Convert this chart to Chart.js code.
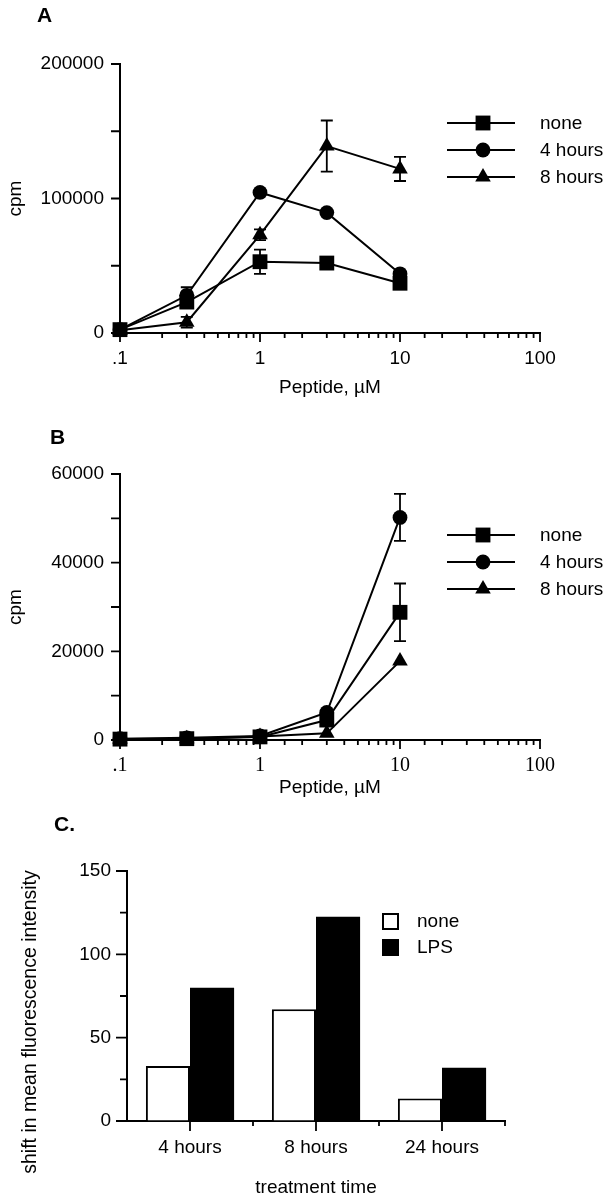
<!DOCTYPE html>
<html>
<head>
<meta charset="utf-8">
<script src="https://cdn.jsdelivr.net/npm/chart.js@4.4.1/dist/chart.umd.min.js"></script>
<style>
  body { margin: 0; background: #fff; width: 611px; height: 1199px; position: relative; overflow: hidden; }
  .panel { position: absolute; left: 0; width: 611px; }
  .tag { position: absolute; font-family: "Liberation Sans", Arial, sans-serif; font-weight: bold; font-size: 21px; color: #000; }
</style>
</head>
<body>
<div class="panel" style="top:0;height:400px"><canvas id="chartA" width="611" height="400"></canvas></div>
<div class="panel" style="top:400px;height:400px"><canvas id="chartB" width="611" height="400"></canvas></div>
<div class="panel" style="top:800px;height:399px"><canvas id="chartC" width="611" height="399"></canvas></div>
<div class="tag" style="left:37px;top:3px">A</div>
<div class="tag" style="left:50px;top:425px">B</div>
<div class="tag" style="left:54px;top:812px">C.</div>
<script>
// peptide concentrations (uM)
const conc = [0.1, 0.3, 1, 3, 10]
const seriesNames = ['none', '4 hours', '8 hours']

// panel A, cpm
const aNone = [2500, 23000, 53000, 52000, 37000]
const aNoneErr = [0, 0, 9000, 0, 0]
const a4h = [2500, 28000, 104500, 89500, 44000]
const a4hErr = [0, 6000, 0, 0, 0]
const a8h = [2000, 8000, 73000, 139000, 122000]
const a8hErr = [0, 4000, 4000, 19000, 9000]
const aYLabels = [0, 100000, 200000]

// panel B, cpm
const bNone = [200, 300, 700, 4500, 28800]
const bNoneErr = [0, 0, 0, 0, 6500]
const b4h = [300, 500, 900, 6200, 50200]
const b4hErr = [0, 0, 0, 0, 5300]
const b8h = [200, 300, 800, 1500, 17800]
const b8hErr = [0, 0, 0, 0, 0]
const bYLabels = [0, 20000, 40000, 60000]

const xTickValues = [0.1, 1, 10, 100]
const xTickLabels = ['.1', '1', '10', '100']

// panel C, shift in mean fluorescence intensity
const times = ['4 hours', '8 hours', '24 hours']
const cNone = [33, 67, 13.5]
const cLps = [80, 122.5, 32]
const cYLabels = [0, 50, 100, 150]

Chart.defaults.font.family = '"Liberation Sans", Arial, sans-serif'
Chart.defaults.font.size = 19
Chart.defaults.color = '#000'

function pts(vals){
    return conc.map((c, i) => ({x: c, y: vals[i]}))
}

function drawMarker(ctx, style, r, x, y){
    ctx.beginPath()
    if(style == 'rect'){
        const s = r * Math.SQRT1_2
        ctx.rect(x - s, y - s, 2 * s, 2 * s)
    }
    else if(style == 'circle'){
        ctx.arc(x, y, r, 0, Math.PI * 2)
    }
    else {
        ctx.moveTo(x, y - r)
        ctx.lineTo(x + r * 0.866, y + r / 2)
        ctx.lineTo(x - r * 0.866, y + r / 2)
        ctx.closePath()
    }
    ctx.fill()
}

// vertical error bars from the dataset "errors" array
const errorBars = {
    id: 'errorBars',
    beforeDatasetsDraw(chart){
        const ctx = chart.ctx
        const xs = chart.scales.x, ys = chart.scales.y
        ctx.save()
        ctx.strokeStyle = '#000'
        ctx.lineWidth = 1.8
        chart.data.datasets.forEach(ds => {
            if(!ds.errors) return
            ds.data.forEach((p, i) => {
                const e = ds.errors[i]
                if(!e) return
                const px = xs.getPixelForValue(p.x)
                const top = ys.getPixelForValue(p.y + e)
                const bot = ys.getPixelForValue(p.y - e)
                ctx.beginPath()
                ctx.moveTo(px, top); ctx.lineTo(px, bot)
                ctx.moveTo(px - 6, top); ctx.lineTo(px + 6, top)
                ctx.moveTo(px - 6, bot); ctx.lineTo(px + 6, bot)
                ctx.stroke()
            })
        })
        ctx.restore()
    }
}

// tick marks with different lengths for major / minor
const tickMarks = {
    id: 'tickMarks',
    afterDraw(chart, args, opts){
        const ctx = chart.ctx
        ctx.save()
        ctx.strokeStyle = '#000'
        ctx.lineWidth = 1.8
        ctx.beginPath()
        if(opts.x){
            const s = chart.scales.x
            opts.x(s).forEach(m => {
                ctx.moveTo(m.px, s.top); ctx.lineTo(m.px, s.top + m.len)
            })
        }
        if(opts.y){
            const s = chart.scales.y
            opts.y(s).forEach(m => {
                ctx.moveTo(s.right, m.px); ctx.lineTo(s.right - m.len, m.px)
            })
        }
        ctx.stroke()
        ctx.restore()
    }
}

// legend drawn beside the plot
const sideLegend = {
    id: 'sideLegend',
    afterDraw(chart, args, opts){
        const ctx = chart.ctx
        ctx.save()
        ctx.fillStyle = '#000'
        ctx.strokeStyle = '#000'
        ctx.font = '19px "Liberation Sans", Arial, sans-serif'
        ctx.textBaseline = 'middle'
        chart.data.datasets.forEach((ds, i) => {
            const y = opts.top + i * opts.gap
            if(opts.box){
                ctx.fillStyle = ds.backgroundColor
                ctx.fillRect(opts.bx, y - 8, 17, 17)
                ctx.lineWidth = 2
                ctx.strokeRect(opts.bx + 1, y - 7, 15, 15)
            }
            else {
                ctx.lineWidth = 2
                ctx.beginPath()
                ctx.moveTo(opts.x1, y); ctx.lineTo(opts.x2, y)
                ctx.stroke()
                drawMarker(ctx, ds.pointStyle, ds.pointRadius, opts.mx, y)
            }
            ctx.fillStyle = '#000'
            ctx.fillText(ds.label, opts.tx, y + 1)
        })
        ctx.restore()
    }
}

function logMarks(s){
    return s.ticks.map(t => {
        const l = Math.log10(t.value)
        const major = Math.abs(l - Math.round(l)) < 1e-6
        return {px: s.getPixelForValue(t.value), len: major ? 9 : 5}
    })
}

function lineDatasets(v1, e1, v2, e2, v3, e3){
    const base = {borderColor: '#000', backgroundColor: '#000', borderWidth: 2, pointBorderWidth: 0, clip: false}
    return [
        {...base, label: seriesNames[0], data: pts(v1), errors: e1, pointStyle: 'rect', pointRadius: 10.5},
        {...base, label: seriesNames[1], data: pts(v2), errors: e2, pointStyle: 'circle', pointRadius: 7.4},
        {...base, label: seriesNames[2], data: pts(v3), errors: e3, pointStyle: 'triangle', pointRadius: 9},
    ]
}

function lineOptions(yMax, yStep, yLabels, top, xHeight, legendTop, xFont){
    return {
        responsive: false,
        animation: false,
        events: [],
        layout: {padding: {top: top, right: 71, left: 0, bottom: 0}},
        plugins: {
            legend: {display: false},
            tooltip: {enabled: false},
            sideLegend: {top: legendTop, gap: 27, x1: 447, x2: 515, mx: 483, tx: 540},
            tickMarks: {
                x: logMarks,
                y: s => s.ticks.map(t => ({px: s.getPixelForValue(t.value), len: 9}))
            }
        },
        scales: {
            x: {
                type: 'logarithmic',
                min: 0.1,
                max: 100,
                border: {display: true, color: '#000', width: 2},
                grid: {drawOnChartArea: false, drawTicks: true, tickLength: 9, color: 'rgba(0,0,0,0)'},
                ticks: {
                    autoSkip: false,
                    maxRotation: 0,
                    padding: 5,
                    font: xFont,
                    callback: v => {
                        const i = xTickValues.findIndex(t => Math.abs(t - v) < 1e-9)
                        return i >= 0 ? xTickLabels[i] : ''
                    }
                },
                title: {display: true, text: 'Peptide, µM', padding: {top: 0, bottom: 1}},
                afterFit: s => { s.height = xHeight }
            },
            y: {
                min: 0,
                max: yMax,
                border: {display: true, color: '#000', width: 2},
                grid: {drawOnChartArea: false, drawTicks: true, tickLength: 9, color: 'rgba(0,0,0,0)'},
                ticks: {
                    stepSize: yStep,
                    padding: 7,
                    callback: v => yLabels.includes(v) ? String(v) : ''
                },
                title: {display: true, text: 'cpm', padding: {top: 4, bottom: 0}},
                afterFit: s => { s.width = 120 }
            }
        }
    }
}

new Chart(document.getElementById('chartA'), {
    type: 'line',
    data: {datasets: lineDatasets(aNone, aNoneErr, a4h, a4hErr, a8h, a8hErr)},
    options: lineOptions(200000, 50000, aYLabels, 64, 67, 123, {size: 19}),
    plugins: [errorBars, tickMarks, sideLegend]
})

new Chart(document.getElementById('chartB'), {
    type: 'line',
    data: {datasets: lineDatasets(bNone, bNoneErr, b4h, b4hErr, b8h, b8hErr)},
    options: lineOptions(60000, 10000, bYLabels, 74, 60, 135, {size: 20, family: '"Liberation Serif", "Times New Roman", serif'}),
    plugins: [errorBars, tickMarks, sideLegend]
})

// panel C y-axis title sits lower than the axis centre
const cYTitle = {
    id: 'cYTitle',
    afterDraw(chart){
        const ctx = chart.ctx
        ctx.save()
        ctx.font = '19.5px "Liberation Sans", Arial, sans-serif'
        ctx.fillStyle = '#000'
        ctx.textAlign = 'center'
        ctx.textBaseline = 'middle'
        ctx.translate(31, 222)
        ctx.rotate(-Math.PI / 2)
        ctx.fillText('shift in mean fluorescence intensity', 0, 0)
        ctx.restore()
    }
}

new Chart(document.getElementById('chartC'), {
    type: 'bar',
    data: {
        labels: times,
        datasets: [
            {label: 'none', data: cNone, backgroundColor: '#fff', borderColor: '#000', borderWidth: 2, borderSkipped: 'bottom'},
            {label: 'LPS', data: cLps, backgroundColor: '#000', borderColor: '#000', borderWidth: 0}
        ]
    },
    options: {
        responsive: false,
        animation: false,
        events: [],
        layout: {padding: {top: 71, right: 106, left: 0, bottom: 0}},
        datasets: {bar: {categoryPercentage: 0.7, barPercentage: 1}},
        plugins: {
            legend: {display: false},
            tooltip: {enabled: false},
            sideLegend: {box: true, top: 121, gap: 26, bx: 382, tx: 417},
            tickMarks: {
                x: s => {
                    const half = (s.getPixelForValue(1) - s.getPixelForValue(0)) / 2
                    const marks = []
                    times.forEach((t, i) => {
                        const c = s.getPixelForValue(i)
                        marks.push({px: c, len: 10})
                        marks.push({px: c + half, len: 5})
                    })
                    return marks
                },
                y: s => s.ticks.map(t => ({px: s.getPixelForValue(t.value), len: cYLabels.includes(t.value) ? 11 : 7}))
            }
        },
        scales: {
            x: {
                border: {display: true, color: '#000', width: 2},
                grid: {drawOnChartArea: false, drawTicks: true, tickLength: 10, color: 'rgba(0,0,0,0)'},
                ticks: {padding: 5, maxRotation: 0},
                title: {display: true, text: 'treatment time', padding: {top: 0, bottom: 0}},
                afterFit: s => { s.height = 78 }
            },
            y: {
                min: 0,
                max: 150,
                border: {display: true, color: '#000', width: 2},
                grid: {drawOnChartArea: false, drawTicks: true, tickLength: 11, color: 'rgba(0,0,0,0)'},
                ticks: {
                    stepSize: 25,
                    padding: 5,
                    callback: v => cYLabels.includes(v) ? String(v) : ''
                },
                afterFit: s => { s.width = 127 }
            }
        }
    },
    plugins: [tickMarks, sideLegend, cYTitle]
})
</script>
</body>
</html>
